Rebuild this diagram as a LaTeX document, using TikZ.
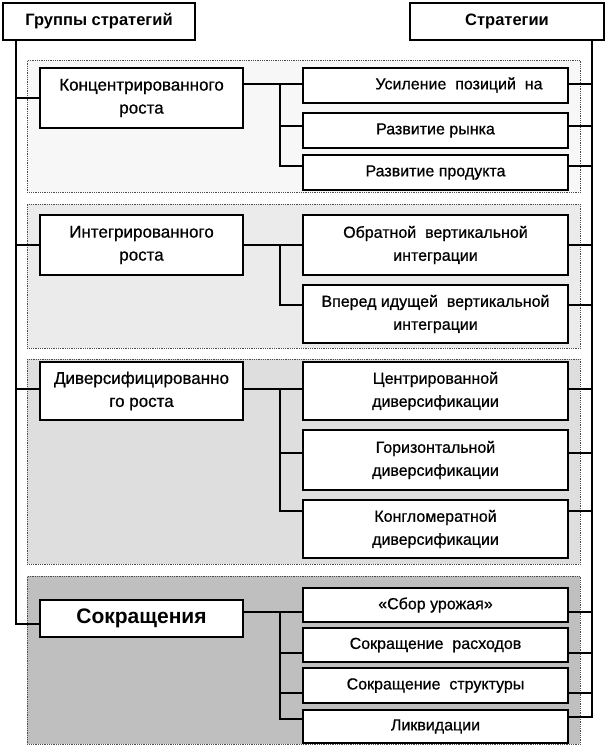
\documentclass[tikz,border=0pt]{standalone}
\usepackage{fontspec}
\setmainfont{Liberation Sans}
\newfontfamily\heavy{Liberation Sans}[FakeBold=0.7]
\begin{document}
\begin{tikzpicture}[x=1pt,y=-1pt,
  panel/.style={draw=black!70, densely dotted, line width=0.8pt, anchor=north west, inner sep=0pt, minimum width=553pt},
  hdr/.style={draw, line width=2pt, fill=white, inner sep=0pt, minimum height=37pt, font=\fontsize{16.5}{20}\selectfont\bfseries},
  grp/.style={draw, line width=2pt, fill=white, inner sep=0pt, align=center, minimum width=203pt, font=\heavy\fontsize{17}{23}\selectfont},
  strat/.style={draw, line width=2pt, fill=white, inner sep=0pt, align=center, minimum width=265pt, font=\heavy\fontsize{16}{23}\selectfont},
  conn/.style={line width=1.5pt}
]
\useasboundingbox (0,0) rectangle (608,749);
% panels
\node[panel, fill=black!3, minimum height=132pt] (p1) at (27,60) {};
\node[panel, fill=black!8, minimum height=144pt] (p2) at (27,204) {};
\node[panel, fill=black!13, minimum height=205pt] (p3) at (27,359) {};
\node[panel, fill=black!25, minimum height=168pt] (p4) at (27,576) {};
% headers
\node[hdr, minimum width=192pt] (hL) at (99,21.5) {Группы стратегий};
\node[hdr, minimum width=194pt] (hR) at (507,21.5) {Стратегии};
% group boxes
\node[grp, minimum height=60pt] (g1) at (141.5,98) {Концентрированного\\роста};
\node[grp, minimum height=60pt] (g2) at (141.5,245) {Интегрированного\\роста};
\node[grp, minimum height=58pt] (g3) at (141.5,391) {Диверсифицированно\\го роста};
\node[grp, minimum height=37pt, font=\fontsize{21}{24}\selectfont\bfseries] (g4) at (141.5,618.5) {Сокращения};
% strategy boxes
\node[strat, minimum height=35pt] (r11) at (435.5,85.5) {};
\node[font=\heavy\fontsize{16}{23}\selectfont] (t11) at (459,85) {Усиление~ позиций~ на};
\node[strat, minimum height=35pt] (r12) at (435.5,130.5) {Развитие рынка};
\node[strat, minimum height=35pt] (r13) at (435.5,172.5) {Развитие продукта};
\node[strat, minimum height=60pt] (r21) at (435.5,245) {Обратной~ вертикальной\\интеграции};
\node[strat, minimum height=58pt] (r22) at (435.5,314) {Вперед идущей~ вертикальной\\интеграции};
\node[strat, minimum height=58pt] (r31) at (435.5,391) {Центрированной\\диверсификации};
\node[strat, minimum height=60pt] (r32) at (435.5,460) {Горизонтальной\\диверсификации};
\node[strat, minimum height=58pt] (r33) at (435.5,529) {Конгломератной\\диверсификации};
\node[strat, minimum height=34pt] (r41) at (435.5,605) {«Сбор урожая»};
\node[strat, minimum height=34pt] (r42) at (435.5,645) {Сокращение~ расходов};
\node[strat, minimum height=35pt] (r43) at (435.5,685.5) {Сокращение~ структуры};
\node[strat, minimum height=33pt] (r44) at (435.5,726.5) {Ликвидации};
% guide coordinates
\coordinate (L) at (16,0);
\coordinate (B) at (280,0);
\coordinate (R) at (592,0);
% left spine
\draw[conn] (hL.south -| L) |- ([yshift=-5.5pt]g4.west);
\draw[conn] (g1.west -| L) -- (g1.west);
\draw[conn] (g2.west -| L) -- (g2.west);
\draw[conn] ([yshift=2pt]g3.west -| L) -- ([yshift=2pt]g3.west);
% right spine
\draw[conn] (hR.south -| R) |- ([yshift=9.5pt]r44.east);
\foreach \n/\s in {r11/1.5, r12/4.5, r13/6.5, r21/0, r22/9, r31/2, r32/7, r33/18, r41/-7, r42/-8, r43/-7.5}
  \draw[conn] ([yshift=\s pt]\n.east) -- ([yshift=\s pt]\n.east -| R);
% group 1 branches
\draw[conn] ([yshift=14pt]g1.east) -- ([yshift=14pt]g1.east -| r11.west);
\draw[conn] ([yshift=14pt]g1.east -| B) |- ([yshift=6.5pt]r13.west);
\draw[conn] ([yshift=4.5pt]r12.west -| B) -- ([yshift=4.5pt]r12.west);
% group 2 branches
\draw[conn] (g2.east) -- (r21.west);
\draw[conn] (g2.east -| B) |- ([yshift=9pt]r22.west);
% group 3 branches
\draw[conn] ([yshift=2pt]g3.east) -- ([yshift=2pt]r31.west);
\draw[conn] ([yshift=2pt]g3.east -| B) |- ([yshift=18pt]r33.west);
\draw[conn] ([yshift=7pt]r32.west -| B) -- ([yshift=7pt]r32.west);
% group 4 branches
\draw[conn] ([yshift=6.5pt]g4.east) -- ([yshift=6.5pt]g4.east -| r41.west);
\draw[conn] ([yshift=6.5pt]g4.east -| B) |- ([yshift=7.5pt]r44.west);
\draw[conn] ([yshift=-8pt]r42.west -| B) -- ([yshift=-8pt]r42.west);
\draw[conn] ([yshift=-7.5pt]r43.west -| B) -- ([yshift=-7.5pt]r43.west);
\end{tikzpicture}
\end{document}
